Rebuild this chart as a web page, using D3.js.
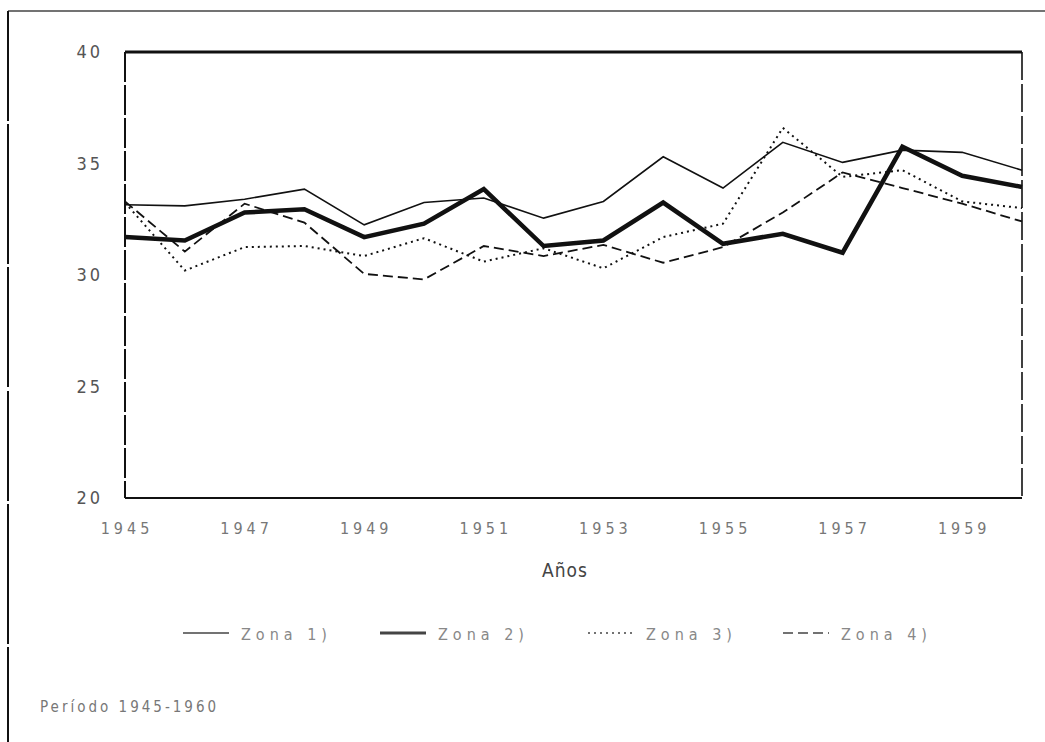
<!DOCTYPE html>
<html><head><meta charset="utf-8">
<script src="https://cdn.jsdelivr.net/npm/d3@7"></script>
<style>body{margin:0;background:#fff}svg{display:block}</style>
</head><body>
<script>
const years = [1945,1946,1947,1948,1949,1950,1951,1952,1953,1954,1955,1956,1957,1958,1959,1960];
const zona1 = [33.15,33.1,33.4,33.85,32.25,33.25,33.45,32.55,33.3,35.3,33.9,35.95,35.05,35.6,35.5,34.7];
const zona2 = [31.7,31.55,32.8,32.95,31.7,32.3,33.85,31.3,31.55,33.25,31.4,31.85,31.0,35.75,34.45,33.95];
const zona3 = [33.25,30.2,31.25,31.3,30.85,31.65,30.6,31.2,30.3,31.7,32.3,36.6,34.4,34.7,33.3,33.0];
const zona4 = [33.3,31.05,33.2,32.35,30.05,29.8,31.3,30.85,31.35,30.55,31.25,32.8,34.6,33.9,33.2,32.4];
const yTicks = [20,25,30,35,40];
const xTicks = [1945,1947,1949,1951,1953,1955,1957,1959];
const seriesNames = ["Zona 1)","Zona 2)","Zona 3)","Zona 4)"];
const xTitle = "Años";
const footer = "Período 1945-1960";

const W=1045,H=742;
const svg=d3.select("body").append("svg").attr("width",W).attr("height",H);
const L=125,R=1022,T=52,B=498;
const x=d3.scaleLinear().domain([1945,1960]).range([L,R]);
const y=d3.scaleLinear().domain([20,40]).range([B,T]);
const FONT="DejaVu Sans Condensed, DejaVu Sans";

// outer frame fragments
svg.append("line").attr("x1",8).attr("x2",1045).attr("y1",11).attr("y2",11)
  .attr("stroke","#444").attr("stroke-width",1.3);
svg.append("line").attr("x1",8).attr("x2",8).attr("y1",11).attr("y2",742)
  .attr("stroke","#111").attr("stroke-width",2).attr("stroke-dasharray","110,3,140,3,120,4");

const series=[
  {v:zona1,w:1.6,d:null},
  {v:zona2,w:4.5,d:null},
  {v:zona3,w:2,d:"2,4"},
  {v:zona4,w:1.8,d:"10,5"}
];
const line=d3.line().x((d,i)=>x(years[i])).y(d=>y(d));
series.forEach(s=>{
  svg.append("path").datum(s.v).attr("d",line).attr("fill","none")
    .attr("stroke","#111").attr("stroke-width",s.w)
    .attr("stroke-linejoin","miter")
    .attr("stroke-dasharray",s.d);
});

// plot box
svg.append("line").attr("x1",L).attr("x2",R).attr("y1",T).attr("y2",T).attr("stroke","#111").attr("stroke-width",3);
svg.append("line").attr("x1",L).attr("x2",R).attr("y1",B).attr("y2",B).attr("stroke","#111").attr("stroke-width",2);
svg.append("line").attr("x1",L).attr("x2",L).attr("y1",T).attr("y2",B).attr("stroke","#111").attr("stroke-width",2).attr("stroke-dasharray","30,3");
svg.append("line").attr("x1",R).attr("x2",R).attr("y1",T).attr("y2",B).attr("stroke","#111").attr("stroke-width",1.6).attr("stroke-dasharray","28,4");

// y labels
svg.selectAll(".yl").data(yTicks).enter().append("text")
  .attr("x",103).attr("y",d=>y(d)).attr("dy","0.35em").attr("text-anchor","end")
  .attr("font-family",FONT).attr("font-size",18)
  .attr("letter-spacing","3px").attr("fill","#555").text(d=>d);

// x labels
svg.selectAll(".xl").data(xTicks).enter().append("text")
  .attr("x",d=>x(d)+2).attr("y",534).attr("text-anchor","middle")
  .attr("font-family",FONT).attr("font-size",16)
  .attr("letter-spacing","4px").attr("fill","#777").text(d=>d);

svg.append("text").attr("x",565).attr("y",577).attr("text-anchor","middle")
  .attr("font-family",FONT).attr("font-size",19)
  .attr("letter-spacing","1px").attr("fill","#444").text(xTitle);

// legend
const legX=[183,380,588,783];
series.forEach((s,i)=>{
  const g=svg.append("g");
  g.append("line").attr("x1",legX[i]).attr("x2",legX[i]+46).attr("y1",633).attr("y2",633)
    .attr("stroke","#444").attr("stroke-width",s.w===4.5?3:1.5).attr("stroke-dasharray",s.d);
  g.append("text").attr("x",legX[i]+58).attr("y",640)
    .attr("font-family",FONT).attr("font-size",16)
    .attr("letter-spacing","5px").attr("fill","#888").text(seriesNames[i]);
});

svg.append("text").attr("x",40).attr("y",712)
  .attr("font-family",FONT).attr("font-size",15)
  .attr("letter-spacing","3px").attr("fill","#777").text(footer);
</script>
</body></html>
